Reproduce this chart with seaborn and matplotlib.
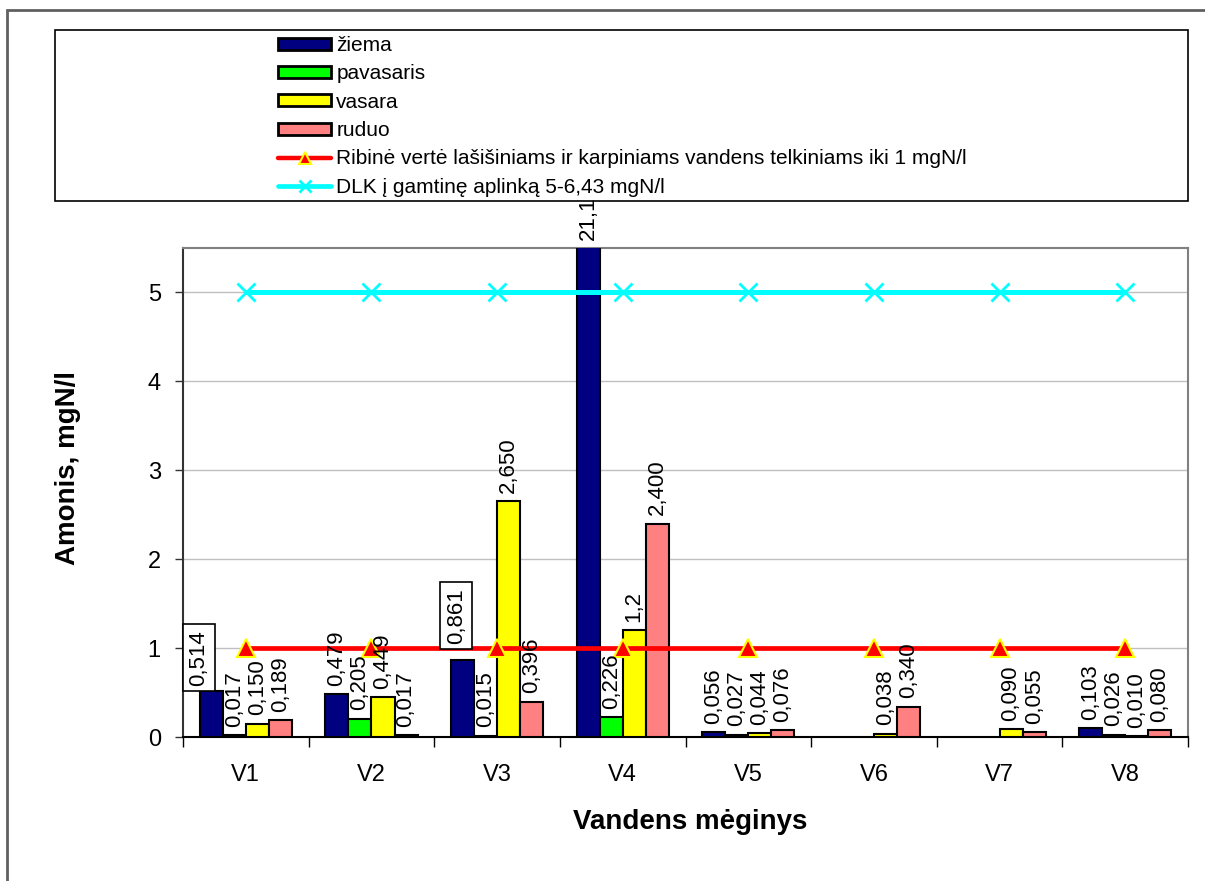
import numpy as np
import pandas as pd
import matplotlib
matplotlib.use('Agg')
import matplotlib.pyplot as plt
import seaborn as sns
from matplotlib.patches import Patch, Rectangle
from matplotlib.lines import Line2D

# duomenys nuskaityti nuo paveikslo (tuscia = nera matavimo)
samples = ['V1', 'V2', 'V3', 'V4', 'V5', 'V6', 'V7', 'V8']
seasons = ['žiema', 'pavasaris', 'vasara', 'ruduo']
ziema = ['0,514', '0,479', '0,861', '21,1', '0,056', '', '', '0,103']
pavasaris = ['0,017', '0,205', '0,015', '0,226', '0,027', '', '', '0,026']
vasara = ['0,150', '0,449', '2,650', '1,2', '0,044', '0,038', '0,090', '0,010']
ruduo = ['0,189', '0,017', '0,396', '2,400', '0,076', '0,340', '0,055', '0,080']
ribine = [1, 1, 1, 1, 1, 1, 1, 1]
dlk = [5, 5, 5, 5, 5, 5, 5, 5]

ribine_label = 'Ribinė vertė lašišiniams ir karpiniams vandens telkiniams iki 1 mgN/l'
dlk_label = 'DLK į gamtinę aplinką 5-6,43 mgN/l'
colors = {'žiema': '#000080', 'pavasaris': '#00ff00', 'vasara': '#ffff00', 'ruduo': '#ff8080'}

rows = []
for season, col in zip(seasons, [ziema, pavasaris, vasara, ruduo]):
    for s, lbl in zip(samples, col):
        val = float(lbl.replace(',', '.')) if lbl else np.nan
        rows.append({'sample': s, 'season': season, 'value': val, 'label': lbl})
df = pd.DataFrame(rows)

sns.set_style('white')
plt.rcParams['font.family'] = ['Liberation Sans', 'DejaVu Sans']
plt.rcParams.update({'text.color': 'black', 'axes.labelcolor': 'black',
                     'xtick.color': 'black', 'ytick.color': 'black'})

fig = plt.figure(figsize=(12.05, 8.81), dpi=100)
ax = fig.add_axes([183 / 1205, 1 - 737 / 881, 1005 / 1205, 489 / 881])

bar_w = 0.735
sns.barplot(data=df, x='sample', y='value', hue='season', order=samples, hue_order=seasons,
            palette=colors, width=bar_w, edgecolor='black', linewidth=1.5, saturation=1,
            errorbar=None, legend=False, ax=ax, zorder=3)

x = np.arange(len(samples))
ax.plot(x, ribine, color='red', lw=3.4, marker='^', ms=13, mfc='red', mec='yellow', mew=1.5, zorder=6)
ax.plot(x, dlk, color='cyan', lw=3.6, marker='x', ms=13, mew=2, zorder=6)

ax.set_xlim(-0.5, len(samples) - 0.5)
ax.set_ylim(0, 5.5)
top = 5.5

# vertes virs stulpeliu
for j, season in enumerate(seasons):
    sub = df[df.season == season]
    for i, (val, lbl) in enumerate(zip(sub.value, sub.label)):
        if not lbl:
            continue
        xc = i + (j - 1.5) * bar_w / 4
        y = min(val, top)
        kw = dict(rotation=90, ha='center', va='bottom', fontsize=16, textcoords='offset points',
                  annotation_clip=False, zorder=7)
        if lbl == '0,514':
            ax.annotate(lbl, (xc, y), xytext=(-9, 4), bbox=dict(boxstyle='square,pad=0.25', fc='white', ec='black', lw=1.2), **kw)
        elif lbl == '0,861':
            ax.annotate(lbl, (xc, y), xytext=(-4.5, 12), bbox=dict(boxstyle='square,pad=0.25', fc='white', ec='black', lw=1.2), **kw)
        else:
            ax.annotate(lbl, (xc, y), xytext=(0, 6), **kw)

ax.set_yticks(range(0, 6))
ax.yaxis.grid(True, color='#c0c0c0', lw=1)
ax.set_axisbelow(True)
ax.tick_params(axis='y', which='major', left=True, length=6, width=1, color='#333333', labelsize=17, pad=10)
ax.set_xticks(x)
ax.set_xticklabels(samples)
ax.set_xticks(np.arange(-0.5, len(samples)), minor=True)
ax.tick_params(axis='x', which='major', bottom=False, labelsize=17, pad=16)
ax.tick_params(axis='x', which='minor', bottom=True, length=7, width=1, color='black', direction='out')

for side in ['top', 'right']:
    ax.spines[side].set_color('#808080')
    ax.spines[side].set_linewidth(1.5)
ax.spines['left'].set_color('#333333')
ax.spines['left'].set_linewidth(1.5)
ax.spines['bottom'].set_color('black')
ax.spines['bottom'].set_linewidth(1.5)

ax.set_xlabel('Vandens mėginys', fontsize=20, fontweight='bold')
ax.set_ylabel('Amonis, mgN/l', fontsize=20, fontweight='bold')
ax.xaxis.set_label_coords(0.505, -0.148)
ax.yaxis.set_label_coords(-0.101, 0.55)

# legenda
handles = [Patch(facecolor=colors[s], edgecolor='black', lw=2) for s in seasons]
handles.append(Line2D([], [], color='red', lw=3.2, marker='^', ms=9, mfc='red', mec='yellow', mew=1.5))
handles.append(Line2D([], [], color='cyan', lw=3.4, marker='x', ms=9, mew=2))
leg = fig.legend(handles, seasons + [ribine_label, dlk_label], loc='upper left',
                 bbox_to_anchor=(278 / 1205, 1 - 36 / 881), frameon=False, fontsize=15,
                 borderpad=0, borderaxespad=0, handlelength=2.55, handleheight=0.5,
                 handletextpad=0.25, labelspacing=0.45, numpoints=1)

fig.patches.append(Rectangle((55 / 1205, 1 - 201 / 881), 1133 / 1205, 171 / 881,
                             transform=fig.transFigure, fill=False, ec='black', lw=1.2))
fig.patches.append(Rectangle((7 / 1205, -0.1), 1.2, 1.1 - 10 / 881,
                             transform=fig.transFigure, fill=False, ec='#606060', lw=2))

fig.savefig('out.png', dpi=100)
